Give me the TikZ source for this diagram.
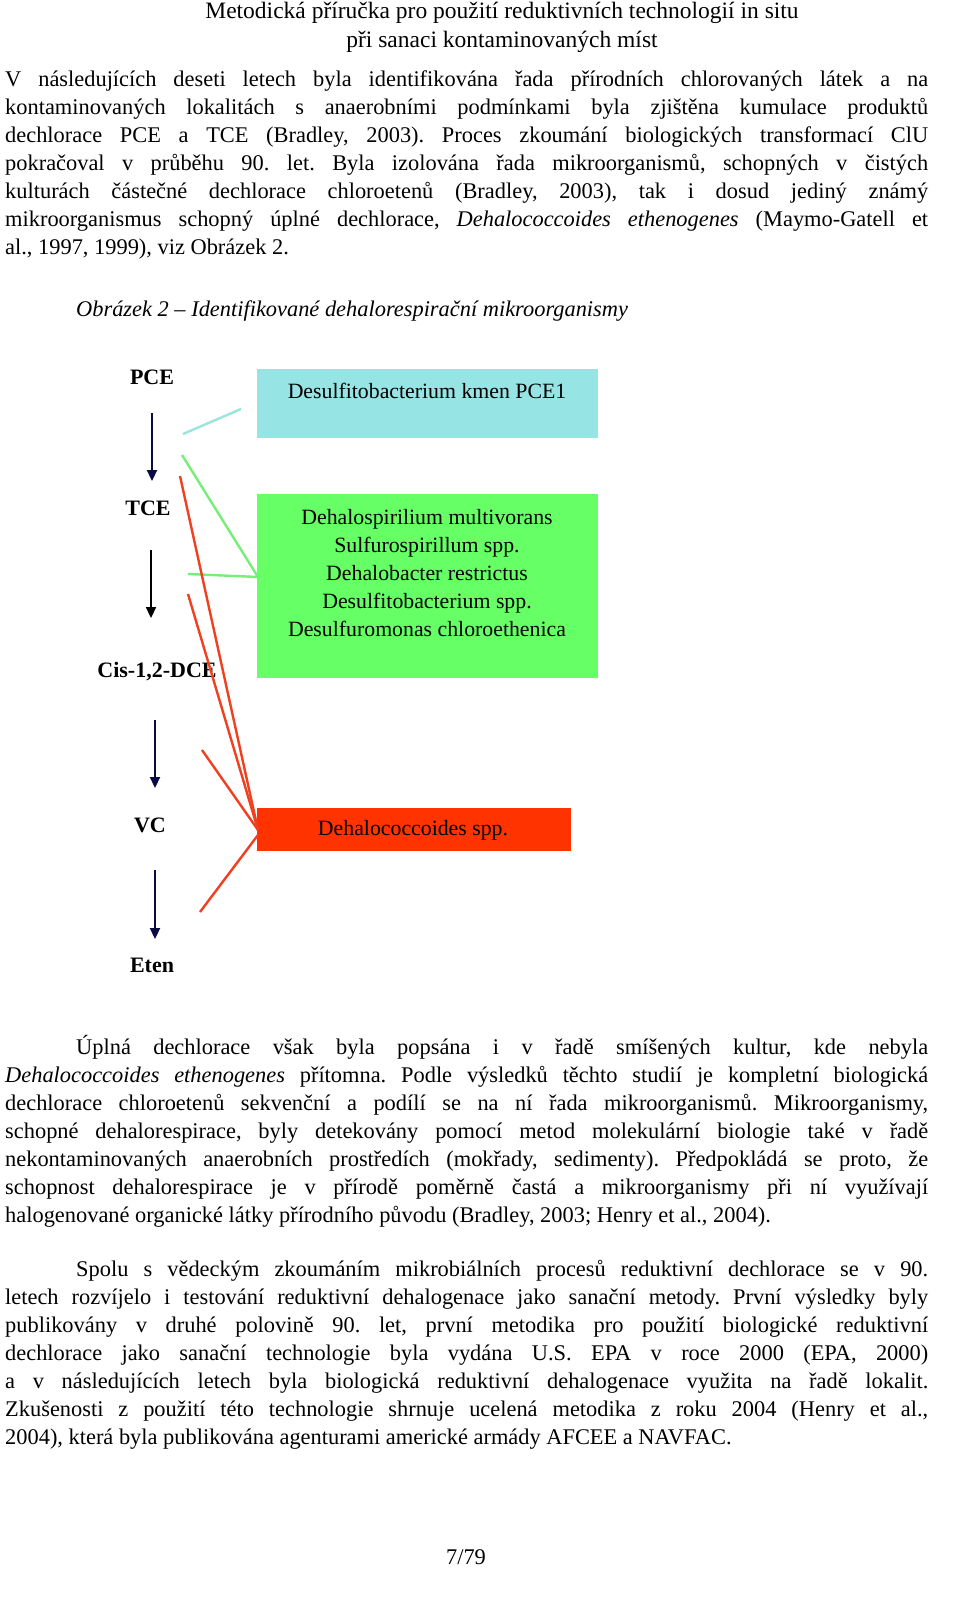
\documentclass[tikz,border=0pt]{standalone}
\usepackage{fontspec}
\setmainfont{Liberation Serif}
\usetikzlibrary{arrows.meta}
\definecolor{cyanbox}{HTML}{96E4E4}
\definecolor{greenbox}{HTML}{66FF66}
\definecolor{redbox}{HTML}{FF3300}
\definecolor{cyanln}{HTML}{99E6DD}
\definecolor{greenln}{HTML}{77EE77}
\definecolor{redln}{HTML}{F04020}
\definecolor{navy}{HTML}{0A0A45}
\frenchspacing
\begin{document}
\begin{tikzpicture}[x=1pt,y=-1pt,
  para/.style={anchor=north west,inner sep=0pt,text width=923pt,align=justify,
    font=\fontsize{22.4}{28}\selectfont},
  chem/.style={inner sep=0pt,font=\fontsize{22}{23}\bfseries\selectfont},
  box/.style={anchor=north west,inner sep=0pt},
  boxtxt/.style={inner sep=0pt,align=center,font=\fontsize{21.8}{28}\selectfont},
  flow/.style={line width=2.2pt,-{Triangle[length=11pt,width=10pt]}},
  link/.style={line width=2.4pt}]
\useasboundingbox (0,0) rectangle (960,1613);
\fill[white] (0,0) rectangle (960,1613);
% header
\node[inner sep=0pt,align=center,font=\fontsize{23.5}{29}\selectfont] (hdr) at (502,27)
  {Metodická příručka pro použití reduktivních technologií in situ\\při sanaci kontaminovaných míst};
% paragraph 1
\node[para] (p1) at (5,71) {\emergencystretch=20pt
V~následujících deseti letech byla identifikována řada přírodních chlorovaných látek a na\linebreak
kontaminovaných lokalitách s~anaerobními podmínkami byla zjištěna kumulace produktů\linebreak
dechlorace PCE a TCE (Bradley, 2003). Proces zkoumání biologických transformací ClU\linebreak
pokračoval v~průběhu 90. let. Byla izolována řada mikroorganismů, schopných v~čistých\linebreak
kulturách částečné dechlorace chloroetenů (Bradley, 2003), tak i dosud jediný známý\linebreak
mikroorganismus schopný úplné dechlorace, \textit{Dehalococcoides ethenogenes} (Maymo-Gatell et\linebreak
al., 1997, 1999), viz Obrázek 2.};
\node[anchor=west,inner sep=0pt,font=\fontsize{22.4}{28}\itshape\selectfont] (cap) at (76,311)
  {Obrázek 2 -- Identifikované dehalorespirační mikroorganismy};
% diagram
\node[box,fill=cyanbox,minimum width=341pt,minimum height=69pt] (b1) at (257,369) {};
\node[boxtxt] at (427,391) {Desulfitobacterium kmen PCE1};
\node[box,fill=greenbox,minimum width=341pt,minimum height=184pt] (b2) at (257,494) {};
\node[boxtxt] at (427,573)
  {Dehalospirilium multivorans\\Sulfurospirillum spp.\\Dehalobacter restrictus\\Desulfitobacterium spp.\\Desulfuromonas chloroethenica};
\node[box,fill=redbox,minimum width=314pt,minimum height=43pt] (b3) at (257,808) {};
\node[boxtxt] at (413,830) {Dehalococcoides spp.};
\node[chem] (pce) at (152,377) {PCE};
\node[chem] (tce) at (148,508) {TCE};
\node[chem] (dce) at (157,672) {Cis-1,2-DCE};
\node[chem] (vc) at (150,825) {VC};
\node[chem] (eten) at (152,965) {Eten};
\coordinate (a1s) at (152,413); \coordinate (a1e) at (152,481);
\coordinate (a2s) at (151,550); \coordinate (a2e) at (151,618);
\coordinate (a3s) at (155,720); \coordinate (a3e) at (155,788);
\coordinate (a4s) at (155,870); \coordinate (a4e) at (155,939);
\draw[flow,navy] (a1s) -- (a1e);
\draw[flow,black] (a2s) -- (a2e);
\draw[flow,navy] (a3s) -- (a3e);
\draw[flow,navy] (a4s) -- (a4e);
\coordinate (c1) at (183,434); \coordinate (c1e) at (241,409);
\draw[link,cyanln] (c1) -- (c1e);
\coordinate (g1) at (182,455); \coordinate (g2) at (188,574); \coordinate (gj) at (258,577);
\draw[link,greenln] (g1) -- (gj);
\draw[link,greenln] (g2) -- (gj);
\coordinate (r1) at (180,476); \coordinate (r2) at (188,594); \coordinate (r3) at (202,750);
\coordinate (r4) at (200,912); \coordinate (rj) at (258,830); \coordinate (rj2) at (258,835);
\draw[link,redln] (r1) -- (rj);
\draw[link,redln] (r2) -- (rj);
\draw[link,redln] (r3) -- (rj);
\draw[link,redln] (r4) -- (rj2);
% paragraph 2
\node[para] (p2) at (5,1035) {\emergencystretch=20pt\hspace*{71pt}%
Úplná dechlorace však byla popsána i v~řadě smíšených kultur, kde nebyla\linebreak
\textit{Dehalococcoides ethenogenes} přítomna. Podle výsledků těchto studií je kompletní biologická\linebreak
dechlorace chloroetenů sekvenční a podílí se na ní řada mikroorganismů. Mikroorganismy,\linebreak
schopné dehalorespirace, byly detekovány pomocí metod molekulární biologie také v~řadě\linebreak
nekontaminovaných anaerobních prostředích (mokřady, sedimenty). Předpokládá se proto, že\linebreak
schopnost dehalorespirace je v~přírodě poměrně častá a mikroorganismy při ní využívají\linebreak
halogenované organické látky přírodního původu (Bradley, 2003; Henry et al., 2004).};
% paragraph 3
\node[para] (p3) at (5,1260) {\emergencystretch=20pt\hspace*{71pt}%
Spolu s~vědeckým zkoumáním mikrobiálních procesů reduktivní dechlorace se v~90.\linebreak
letech rozvíjelo i testování reduktivní dehalogenace jako sanační metody. První výsledky byly\linebreak
publikovány v~druhé polovině 90. let, první metodika pro použití biologické reduktivní\linebreak
dechlorace jako sanační technologie byla vydána U.S. EPA v~roce 2000 (EPA, 2000)\linebreak
a v~následujících letech byla biologická reduktivní dehalogenace využita na řadě lokalit.\linebreak
Zkušenosti z~použití této technologie shrnuje ucelená metodika z~roku 2004 (Henry et al.,\linebreak
2004), která byla publikována agenturami americké armády AFCEE a NAVFAC.};
\node[inner sep=0pt,font=\fontsize{22.4}{28}\selectfont] (pg) at (466,1557) {7/79};
\end{tikzpicture}
\end{document}
